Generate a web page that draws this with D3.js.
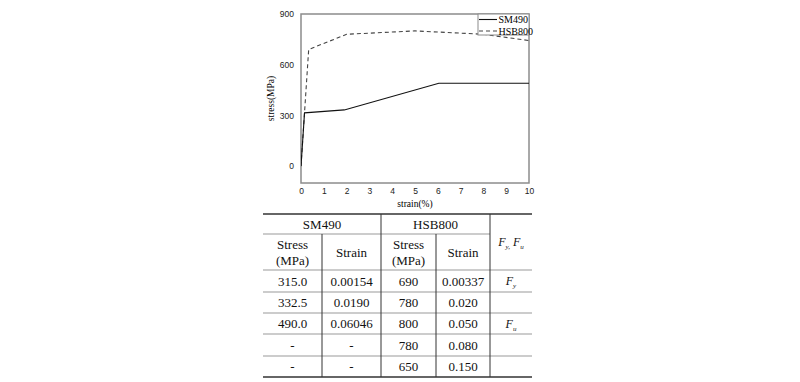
<!DOCTYPE html>
<html>
<head>
<meta charset="utf-8">
<script src="https://cdn.jsdelivr.net/npm/d3@7"></script>
<style>
    body { margin: 0; background: #fff; }
    svg { display: block; }
</style>
</head>
<body>
<script>
//curve data, strain in % and stress in MPa
var sm490Strain = [0, 0.154, 1.9, 6.046, 10];
var sm490Stress = [0, 315, 332.5, 490, 490];
var hsbStrain = [0, 0.337, 2, 5, 8, 15];
var hsbStress = [0, 690, 780, 800, 780, 650];

var xTicks = [0, 1, 2, 3, 4, 5, 6, 7, 8, 9, 10];
var yTicks = [0, 300, 600, 900];
var seriesNames = ["SM490", "HSB800"];

//table rows: SM490 stress, SM490 strain, HSB800 stress, HSB800 strain, mark
var tableRows = [
    ["315.0", "0.00154", "690", "0.00337", "y"],
    ["332.5", "0.0190", "780", "0.020", ""],
    ["490.0", "0.06046", "800", "0.050", "u"],
    ["-", "-", "780", "0.080", ""],
    ["-", "-", "650", "0.150", ""]
];

window.onload = function(){

    var w = 800, h = 382;
    var svg = d3.select("body").append("svg")
        .attr("width", w)
        .attr("height", h);

    var serif = "'Liberation Serif', 'Times New Roman', serif";

    //plot area
    var pLeft = 301, pRight = 529, pTop = 14, pBottom = 183;

    var x = d3.scaleLinear().domain([0, 10]).range([pLeft, pRight]);
    var y = d3.scaleLinear().domain([-100, 900]).range([pBottom, pTop]);

    svg.append("clipPath").attr("id", "plotClip")
        .append("rect")
        .attr("x", pLeft).attr("y", pTop)
        .attr("width", pRight - pLeft).attr("height", pBottom - pTop);

    //frame
    svg.append("rect")
        .attr("x", pLeft).attr("y", pTop)
        .attr("width", pRight - pLeft).attr("height", pBottom - pTop)
        .style("fill", "none")
        .style("stroke", "#8c8c8c")
        .style("stroke-width", 1.5);

    //axes with no tick marks, only labels
    var xAxis = svg.append("g")
        .attr("transform", "translate(0," + pBottom + ")")
        .call(d3.axisBottom(x).tickValues(xTicks).tickSize(0).tickPadding(5));
    var yAxis = svg.append("g")
        .attr("transform", "translate(" + pLeft + ",0)")
        .call(d3.axisLeft(y).tickValues(yTicks).tickSize(0).tickPadding(7));

    [xAxis, yAxis].forEach(function(g){
        g.select(".domain").remove();
        g.selectAll("text")
            .style("font-family", "'Liberation Sans', Arial, sans-serif")
            .style("font-size", "8.5px")
            .style("fill", "#222");
    });

    //axis titles
    svg.append("text")
        .attr("x", (pLeft + pRight) / 2)
        .attr("y", 207)
        .attr("text-anchor", "middle")
        .style("font-family", serif)
        .style("font-size", "9.5px")
        .text("strain(%)");

    svg.append("text")
        .attr("transform", "translate(274," + (pTop + pBottom) / 2 + ") rotate(-90)")
        .attr("text-anchor", "middle")
        .style("font-family", serif)
        .style("font-size", "9.5px")
        .text("stress(MPa)");

    //curves
    var line = d3.line()
        .x(function(d){ return x(d[0]); })
        .y(function(d){ return y(d[1]); });

    var plot = svg.append("g").attr("clip-path", "url(#plotClip)");

    plot.append("path")
        .datum(d3.zip(hsbStrain, hsbStress))
        .attr("d", line)
        .style("fill", "none")
        .style("stroke", "#444")
        .style("stroke-width", 1.1)
        .style("stroke-dasharray", "4,3");

    plot.append("path")
        .datum(d3.zip(sm490Strain, sm490Stress))
        .attr("d", line)
        .style("fill", "none")
        .style("stroke", "#111")
        .style("stroke-width", 1.1);

    //legend
    var legend = svg.append("g");
    legend.append("rect")
        .attr("x", 478).attr("y", pTop)
        .attr("width", pRight - 478).attr("height", 21)
        .style("fill", "#fff")
        .style("stroke", "#8c8c8c")
        .style("stroke-width", 1);

    var items = legend.selectAll(".item")
        .data(seriesNames)
        .enter()
        .append("g")
        .attr("class", "item")
        .attr("transform", function(d, i){
            return "translate(478," + (pTop + 5.5 + i * 11.5) + ")";
        });
    items.append("line")
        .attr("x1", 1).attr("x2", 19)
        .style("stroke", function(d, i){ return i ? "#444" : "#111"; })
        .style("stroke-width", 1.1)
        .style("stroke-dasharray", function(d, i){ return i ? "4,3" : null; });
    items.append("text")
        .attr("x", 20.5)
        .attr("dy", "0.35em")
        .style("font-family", serif)
        .style("font-size", "10px")
        .text(function(d){ return d; });

    //table
    var colX = [263, 322, 381, 436, 490, 532];
    var rowY = [214, 234, 270, 292, 313, 334, 356, 377];
    var table = svg.append("g");

    function cellText(cx, cy, txt){
        return table.append("text")
            .attr("x", cx).attr("y", cy)
            .attr("text-anchor", "middle")
            .attr("dy", "0.35em")
            .style("font-family", serif)
            .style("font-size", "13px")
            .style("fill", "#111")
            .text(txt);
    }

    function fMark(cx, cy, sub){
        var t = table.append("text")
            .attr("x", cx).attr("y", cy)
            .attr("text-anchor", "middle")
            .attr("dy", "0.35em")
            .style("font-family", serif)
            .style("font-size", "12px")
            .style("font-style", "italic")
            .style("fill", "#111");
        t.append("tspan").text("F");
        t.append("tspan").attr("dy", 3).style("font-size", "7px").text(sub);
        return t;
    }

    //horizontal rules
    table.append("line")
        .attr("x1", colX[0]).attr("x2", colX[5])
        .attr("y1", rowY[0]).attr("y2", rowY[0])
        .style("stroke", "#333").style("stroke-width", 1.5);
    table.append("line")
        .attr("x1", colX[0]).attr("x2", colX[4])
        .attr("y1", rowY[1]).attr("y2", rowY[1])
        .style("stroke", "#999").style("stroke-width", 1);
    rowY.slice(2, 7).forEach(function(yy){
        table.append("line")
            .attr("x1", colX[0]).attr("x2", colX[5])
            .attr("y1", yy).attr("y2", yy)
            .style("stroke", "#999").style("stroke-width", 1);
    });
    table.append("line")
        .attr("x1", colX[0]).attr("x2", colX[5])
        .attr("y1", rowY[7]).attr("y2", rowY[7])
        .style("stroke", "#333").style("stroke-width", 1.5);

    //vertical rules
    [1, 3].forEach(function(c){
        table.append("line")
            .attr("x1", colX[c]).attr("x2", colX[c])
            .attr("y1", rowY[1]).attr("y2", rowY[7])
            .style("stroke", "#333").style("stroke-width", 1);
    });
    [2, 4].forEach(function(c){
        table.append("line")
            .attr("x1", colX[c]).attr("x2", colX[c])
            .attr("y1", rowY[0]).attr("y2", rowY[7])
            .style("stroke", "#333").style("stroke-width", 1);
    });

    //header
    cellText((colX[0] + colX[2]) / 2, (rowY[0] + rowY[1]) / 2, seriesNames[0]);
    cellText((colX[2] + colX[4]) / 2, (rowY[0] + rowY[1]) / 2, seriesNames[1]);
    var hMid = (rowY[1] + rowY[2]) / 2;
    [0, 2].forEach(function(c){
        cellText((colX[c] + colX[c + 1]) / 2, hMid - 8, "Stress");
        cellText((colX[c] + colX[c + 1]) / 2, hMid + 8, "(MPa)");
        cellText((colX[c + 1] + colX[c + 2]) / 2, hMid, "Strain");
    });
    var fh = table.append("text")
        .attr("x", (colX[4] + colX[5]) / 2)
        .attr("y", (rowY[0] + rowY[2]) / 2)
        .attr("text-anchor", "middle")
        .attr("dy", "0.35em")
        .style("font-family", serif)
        .style("font-size", "12px")
        .style("font-style", "italic")
        .style("fill", "#111");
    fh.append("tspan").text("F");
    fh.append("tspan").attr("dy", 3).style("font-size", "7px").text("y,");
    fh.append("tspan").attr("dy", -3).text("  F");
    fh.append("tspan").attr("dy", 3).style("font-size", "7px").text("u");

    //body rows
    tableRows.forEach(function(row, r){
        var cy = (rowY[r + 2] + rowY[r + 3]) / 2;
        row.slice(0, 4).forEach(function(v, c){
            cellText((colX[c] + colX[c + 1]) / 2, cy, v);
        });
        if (row[4]) fMark((colX[4] + colX[5]) / 2, cy, row[4]);
    });
};
</script>
</body>
</html>
